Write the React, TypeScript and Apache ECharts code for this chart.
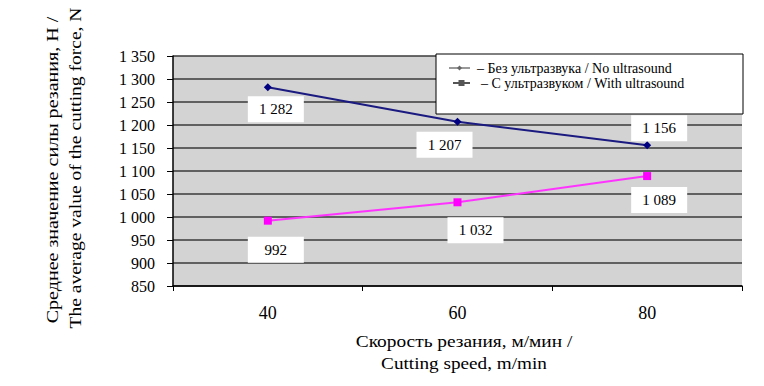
import React, { useEffect, useRef } from "react";
import * as echarts from "echarts";

const categories = ["40", "60", "80"];
const noUltrasound = [1282, 1207, 1156];
const withUltrasound = [992, 1032, 1089];
const seriesNames = ["Без ультразвука / No ultrasound", "С ультразвуком / With ultrasound"];
const yMin = 850;
const yMax = 1350;
const yStep = 50;
const yAxisTitle = ["Среднее значение силы резания, Н /", "The average value of the cutting force, N"];
const xAxisTitle = ["Скорость резания, м/мин /", "Cutting speed, m/min"];

const labelOffsetsNo = [[8, 22], [-13, 23], [12, -17]];
const labelOffsetsWith = [[8, 29], [18, 28], [12, 24]];

const FONT = "Times New Roman, Liberation Serif, serif";

const fmt = (v: number) => {
  const s = String(Math.round(v));
  return s.length > 3 ? s.slice(0, s.length - 3) + " " + s.slice(s.length - 3) : s;
};

const labelStyle = {
  show: true,
  position: "inside",
  color: "#000",
  fontFamily: FONT,
  fontSize: 15,
  backgroundColor: "#ffffff",
  padding: [6, 0, 5, 0],
  width: 56,
  align: "center",
  formatter: (p: any) => fmt(p.value),
};

const txt = (x: number, y: number, text: string, size: number, extra: any = {}, rotation = 0, scaleX = 1) => ({
  type: "text",
  x,
  y,
  rotation,
  scaleX,
  z: 11,
  style: {
    text,
    fontFamily: FONT,
    fontSize: size,
    fill: "#000",
    textVerticalAlign: "middle",
    ...extra,
  },
});

export default function App() {
  const ref = useRef<HTMLDivElement>(null);
  useEffect(() => {
    if (!ref.current) return;
    const chart = echarts.init(ref.current, undefined, { renderer: "svg" });
    const option: any = {
      animation: false,
      backgroundColor: "#ffffff",
      textStyle: { fontFamily: FONT },
      grid: {
        left: 173,
        right: 22,
        top: 56,
        bottom: 100,
        show: true,
        backgroundColor: "#d3d3d3",
        borderWidth: 0,
      },
      xAxis: {
        type: "category",
        data: categories,
        boundaryGap: true,
        axisLine: { lineStyle: { color: "#000", width: 1.5 } },
        axisTick: { show: true, length: 5, lineStyle: { color: "#000" } },
        axisLabel: { color: "#000", fontFamily: FONT, fontSize: 18, margin: 18 },
        splitLine: { show: false },
      },
      yAxis: {
        type: "value",
        min: yMin,
        max: yMax,
        interval: yStep,
        axisLine: { show: true, lineStyle: { color: "#000", width: 1.5 } },
        axisTick: { show: true, length: 6, lineStyle: { color: "#000" } },
        axisLabel: {
          color: "#000",
          fontFamily: FONT,
          fontSize: 16,
          margin: 18,
          formatter: (v: number) => fmt(v),
        },
        splitLine: { show: true, lineStyle: { color: "#3a3a3a", width: 1.5 } },
      },
      series: [
        {
          name: seriesNames[0],
          type: "line",
          data: noUltrasound.map((v, i) => ({
            value: v,
            label: { offset: labelOffsetsNo[i] },
          })),
          symbol: "diamond",
          symbolSize: 8,
          itemStyle: { color: "#000080" },
          lineStyle: { color: "#1a1a80", width: 2 },
          label: labelStyle,
          z: 3,
        },
        {
          name: seriesNames[1],
          type: "line",
          data: withUltrasound.map((v, i) => ({
            value: v,
            label: { offset: labelOffsetsWith[i] },
          })),
          symbol: "rect",
          symbolSize: 8,
          itemStyle: { color: "#ff00ff" },
          lineStyle: { color: "#ff33ff", width: 2 },
          label: labelStyle,
          z: 3,
        },
      ],
      graphic: [
        {
          type: "rect",
          shape: { x: 436, y: 54, width: 307, height: 60 },
          style: { fill: "#ffffff", stroke: "#000", lineWidth: 1 },
          z: 10,
        },
        {
          type: "line",
          shape: { x1: 449, y1: 68, x2: 470, y2: 68 },
          style: { stroke: "#777", lineWidth: 1.5 },
          z: 11,
        },
        {
          type: "polygon",
          shape: { points: [[459.5, 65.5], [462, 68], [459.5, 70.5], [457, 68]] },
          style: { fill: "#666" },
          z: 11,
        },
        txt(477, 68, "– " + seriesNames[0], 14),
        {
          type: "line",
          shape: { x1: 453, y1: 83, x2: 470, y2: 83 },
          style: { stroke: "#555", lineWidth: 2 },
          z: 11,
        },
        {
          type: "rect",
          shape: { x: 458.5, y: 80, width: 6, height: 6 },
          style: { fill: "#555" },
          z: 11,
        },
        txt(481, 83, "– " + seriesNames[1], 14),
        txt(52, 170, yAxisTitle[0], 17, { textAlign: "center" }, Math.PI / 2, 1.18),
        txt(75, 168, yAxisTitle[1], 17, { textAlign: "center" }, Math.PI / 2, 1.15),
        txt(464, 341, xAxisTitle[0], 17, { textAlign: "center" }, 0, 1.14),
        txt(464, 363, xAxisTitle[1], 17, { textAlign: "center" }, 0, 1.13),
      ],
    };
    chart.setOption(option);
    return () => chart.dispose();
  }, []);
  return <div ref={ref} style={{ width: 764, height: 386, position: "absolute", left: 0, top: 0 }} />;
}
